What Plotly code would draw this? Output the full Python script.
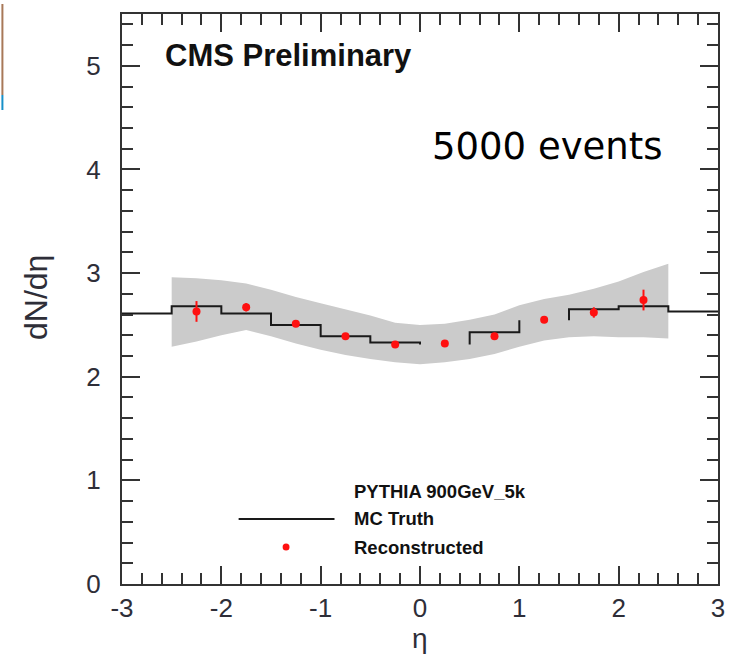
import plotly.graph_objects as go

# ---------------- data ----------------
# MC truth histogram (bin edges and contents); some bins have no visible top line
bin_edges = [-3.0, -2.5, -2.0, -1.5, -1.0, -0.5, 0.0, 0.5, 1.0, 1.5, 2.0, 2.5, 3.0]
mc_truth = [2.61, 2.68, 2.61, 2.50, 2.39, 2.33, 2.31, 2.43, 2.545, 2.65, 2.68, 2.63]
mc_visible = [True, True, True, True, True, True, False, True, False, True, True, True]

# Reconstructed points
reco_eta = [-2.25, -1.75, -1.25, -0.75, -0.25, 0.25, 0.75, 1.25, 1.75, 2.25]
reco_val = [2.63, 2.67, 2.51, 2.39, 2.31, 2.32, 2.39, 2.55, 2.62, 2.74]
reco_err = [0.10, 0.04, 0.02, 0.02, 0.015, 0.015, 0.02, 0.02, 0.05, 0.10]

# Systematic band
band_eta = [-2.5, -2.25, -2.0, -1.75, -1.5, -1.25, -1.0, -0.75, -0.5, -0.25, 0.0,
            0.25, 0.5, 0.75, 1.0, 1.25, 1.5, 1.75, 2.0, 2.25, 2.5]
band_hi = [2.96, 2.95, 2.93, 2.90, 2.84, 2.77, 2.71, 2.65, 2.59, 2.52, 2.50,
           2.51, 2.55, 2.60, 2.69, 2.75, 2.79, 2.85, 2.92, 3.01, 3.09]
band_lo = [2.29, 2.34, 2.40, 2.45, 2.39, 2.32, 2.26, 2.21, 2.17, 2.14, 2.12,
           2.14, 2.17, 2.22, 2.29, 2.35, 2.38, 2.39, 2.38, 2.38, 2.37]

x_ticks = [-3, -2, -1, 0, 1, 2, 3]
y_ticks = [0, 1, 2, 3, 4, 5]

# ---------------- layout geometry ----------------
W, H = 735, 655
ML, MR, MT, MB = 122, 10, 14, 71
PW, PH = W - ML - MR, H - MT - MB


def px2paper(px, py):
    return (px - ML) / PW, (H - MB - py) / PH


# build step path for MC truth with gaps
hx, hy = [], []
n = len(mc_truth)
for i in range(n):
    x0, x1 = bin_edges[i], bin_edges[i + 1]
    v = mc_truth[i]
    if mc_visible[i]:
        hx += [x0]; hy += [mc_truth[i - 1] if i > 0 else v]
        hx += [x0, x1]; hy += [v, v]
        if i < n - 1 and not mc_visible[i + 1]:
            hx += [x1, None]; hy += [mc_truth[i + 1], None]

fig = go.Figure()

fig.add_trace(go.Scatter(
    x=band_eta + band_eta[::-1], y=band_hi + band_lo[::-1],
    fill="toself", fillcolor="#cbcbcb", line=dict(width=0),
    mode="lines", hoverinfo="skip", showlegend=False))

fig.add_trace(go.Scatter(
    x=hx, y=hy, mode="lines", line=dict(color="#1a1a1a", width=2),
    connectgaps=False, showlegend=False))

fig.add_trace(go.Scatter(
    x=reco_eta, y=reco_val, mode="markers",
    marker=dict(color="#ff1010", size=8),
    error_y=dict(type="data", array=reco_err, color="#ff1010", thickness=2, width=0),
    showlegend=False))

axis_common = dict(
    showline=True, linecolor="#333333", linewidth=2, mirror="ticks",
    ticks="inside", ticklen=18, tickwidth=2, tickcolor="#333333",
    showgrid=False, zeroline=False,
    tickfont=dict(family="Liberation Sans, Arial, sans-serif", size=26, color="#2e2e38"),
    minor=dict(ticks="inside", ticklen=11, tickwidth=2, tickcolor="#333333", dtick=0.2, showgrid=False),
)

fig.update_xaxes(range=[-3, 3], tickvals=x_ticks, ticktext=[str(t) for t in x_ticks],
                 ticklabelstandoff=0, **axis_common)
fig.update_yaxes(range=[0, 5.5], tickvals=y_ticks, ticktext=[str(t) for t in y_ticks],
                 ticklabelstandoff=14, **axis_common)

font_b = "Liberation Sans, Arial, Helvetica, sans-serif"
annotations = []
annotations.append(dict(text="<b>CMS Preliminary</b>", x=-2.59, y=5.10, xref="x", yref="y",
                        xanchor="left", yanchor="middle", showarrow=False,
                        font=dict(family=font_b, size=31, color="#111111")))
annotations.append(dict(text="5000 events", x=1.28, y=4.22, xref="x", yref="y",
                        xanchor="center", yanchor="middle", showarrow=False,
                        font=dict(family="DejaVu Sans, sans-serif", size=37, color="#000000")))

leg_x, _ = px2paper(355, 0)
for txt, py in [("PYTHIA 900GeV_5k", 492), ("MC Truth", 518), ("Reconstructed", 547)]:
    _, yy = px2paper(0, py)
    annotations.append(dict(text="<b>" + txt + "</b>", x=leg_x, y=yy, xref="paper", yref="paper",
                            xanchor="left", yanchor="middle", showarrow=False,
                            font=dict(family=font_b, size=18.5, color="#111111")))

tx, ty = px2paper(35, 298)
annotations.append(dict(text="dN/dη", x=tx, y=ty, xref="paper", yref="paper", textangle=-90,
                        xanchor="center", yanchor="middle", showarrow=False,
                        font=dict(family=font_b, size=32, color="#2e2e38")))
tx, ty = px2paper(424, 638)
annotations.append(dict(text="η", x=tx, y=ty, xref="paper", yref="paper",
                        xanchor="center", yanchor="middle", showarrow=False,
                        font=dict(family=font_b, size=28, color="#2e2e38")))

shapes = []
lx0, ly = px2paper(240, 519)
lx1, _ = px2paper(337, 519)
shapes.append(dict(type="line", xref="paper", yref="paper", x0=lx0, x1=lx1, y0=ly, y1=ly,
                   line=dict(color="#1a1a1a", width=2)))
dx, dy = px2paper(288, 547)
shapes.append(dict(type="circle", xref="paper", yref="paper",
                   x0=dx - 3.5 / PW, x1=dx + 3.5 / PW, y0=dy - 3.5 / PH, y1=dy + 3.5 / PH,
                   fillcolor="#ff1010", line=dict(width=0)))
# slide decoration at the left edge
ex, ey0 = px2paper(1, 4)
_, ey1 = px2paper(1, 95)
_, ey2 = px2paper(1, 110)
shapes.append(dict(type="line", xref="paper", yref="paper", x0=ex, x1=ex, y0=ey0, y1=ey1,
                   line=dict(color="#a87858", width=2)))
shapes.append(dict(type="line", xref="paper", yref="paper", x0=ex, x1=ex, y0=ey1, y1=ey2,
                   line=dict(color="#1890c8", width=2)))

fig.update_layout(
    width=W, height=H, margin=dict(l=ML, r=MR, t=MT, b=MB),
    paper_bgcolor="white", plot_bgcolor="white",
    showlegend=False, annotations=annotations, shapes=shapes,
)

fig.write_html("out.html")
